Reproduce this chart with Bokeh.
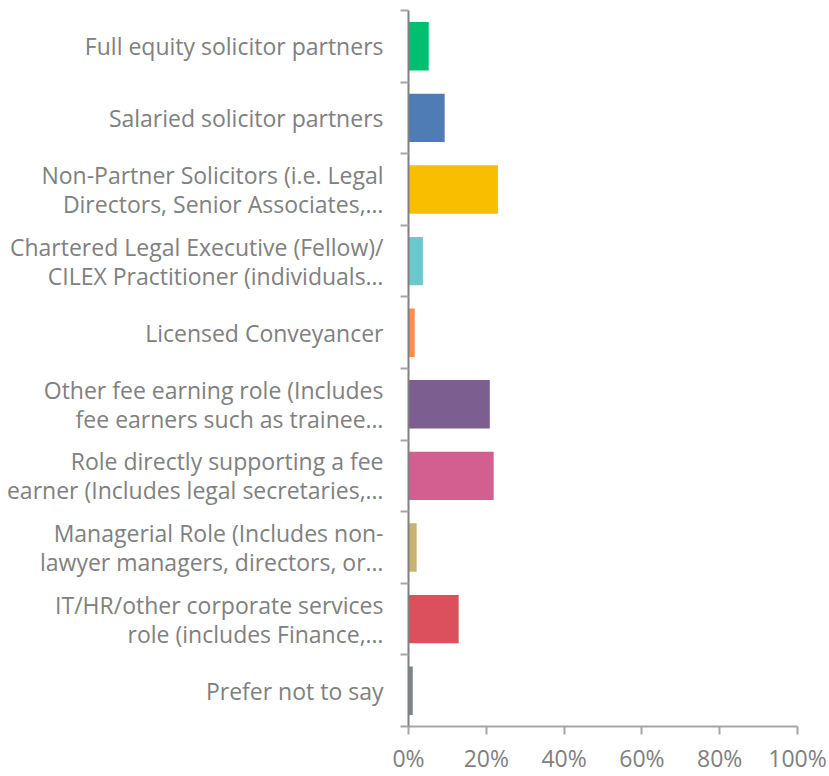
from bokeh.plotting import figure
from bokeh.models import ColumnDataSource, Range1d, FixedTicker, PrintfTickFormatter
from bokeh.embed import file_html
from bokeh.resources import INLINE

categories = [
    "Full equity solicitor partners",
    "Salaried solicitor partners",
    "Non-Partner Solicitors (i.e. Legal\nDirectors, Senior Associates,…",
    "Chartered Legal Executive (Fellow)/\nCILEX Practitioner (individuals…",
    "Licensed Conveyancer",
    "Other fee earning role (Includes\nfee earners such as trainee…",
    "Role directly supporting a fee\nearner (Includes legal secretaries,…",
    "Managerial Role (Includes non-\nlawyer managers, directors, or…",
    "IT/HR/other corporate services\nrole (includes Finance,…",
    "Prefer not to say",
]
values = [5.2, 9.3, 23.0, 3.7, 1.6, 20.9, 21.9, 2.1, 12.9, 1.1]
colors = ["#00BF6F", "#507CB6", "#F9BE00", "#6BC8CD", "#FF8B4F",
          "#7D5E90", "#D25F90", "#C9B46F", "#DC4F5C", "#7B868C"]
x_ticks = [0, 20, 40, 60, 80, 100]

n = len(categories)
ypos = [i + 0.5 for i in range(n)]
src = ColumnDataSource(dict(y=ypos, v=values, c=colors))

FONT = "Open Sans"
GRAY = "#808080"

p = figure(width=829, height=776, output_backend="svg", toolbar_location=None,
           x_range=Range1d(0, 100), y_range=Range1d(n, 0),
           min_border_left=408, min_border_right=32, min_border_top=10, min_border_bottom=46)
p.outline_line_color = None
p.xgrid.visible = False
p.ygrid.visible = False

p.hbar(y="y", right="v", left=0, height=0.676, fill_color="c", line_color=None, source=src)

# y axis: labels at band centres, tick marks at band boundaries
ya = p.yaxis[0]
ya.ticker = FixedTicker(ticks=ypos, minor_ticks=list(range(n + 1)))
ya.major_label_overrides = {y: lab for y, lab in zip(ypos, categories)}
ya.axis_line_color = "#808080"
ya.axis_line_width = 2
ya.minor_tick_out = 8
ya.minor_tick_in = 0
ya.minor_tick_line_color = "#a6a6a6"
ya.minor_tick_line_width = 2
ya.major_tick_line_color = None
ya.major_tick_out = 0
ya.major_tick_in = 0
ya.major_label_standoff = 17
ya.major_label_text_font = FONT
ya.major_label_text_font_size = "23px"
ya.major_label_text_color = GRAY
ya.major_label_text_line_height = 0.91

xa = p.xaxis[0]
xa.ticker = FixedTicker(ticks=x_ticks, minor_ticks=[])
xa.formatter = PrintfTickFormatter(format="%d%%")
xa.axis_line_color = "#a6a6a6"
xa.axis_line_width = 2
xa.major_tick_out = 8
xa.major_tick_in = 0
xa.major_tick_line_color = "#a6a6a6"
xa.major_tick_line_width = 2
xa.minor_tick_line_color = None
xa.major_label_standoff = 7
xa.major_label_text_font = FONT
xa.major_label_text_font_size = "23px"
xa.major_label_text_color = GRAY

open("out.html", "w").write(file_html(p, INLINE))
